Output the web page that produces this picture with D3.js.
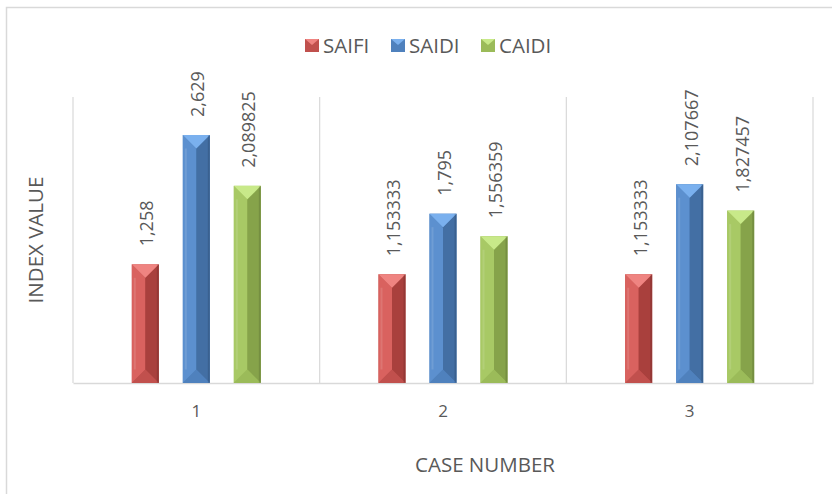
<!DOCTYPE html>
<html>
<head>
<meta charset="utf-8">
<script src="https://cdn.jsdelivr.net/npm/d3@7"></script>
<style>
  body { margin: 0; background: #fff; }
  text { font-family: "Open Sans", sans-serif; fill: #595959; }
</style>
</head>
<body>
<svg id="chart" width="832" height="494"></svg>
<script>
const categories = ["1", "2", "3"];
const seriesNames = ["SAIFI", "SAIDI", "CAIDI"];
const saifi = [1.258, 1.153333, 1.153333];
const saidi = [2.629, 1.795, 2.107667];
const caidi = [2.089825, 1.556359, 1.827457];
const yDomain = [0, 3];

const colors = {
    SAIFI: { base: "#c0504d", light: "#d9625f", dark: "#a9403d", cap: "#ef8481" },
    SAIDI: { base: "#4f81bd", light: "#5c90cf", dark: "#436fa4", cap: "#7ab0ee" },
    CAIDI: { base: "#9bbb59", light: "#a8c965", dark: "#86a34a", cap: "#c8e989" }
};

const plotLeft = 73;
const plotRight = 813;
const plotTop = 97;
const plotBottom = 383;
const barWidth = 27;
const seriesStep = 51;

const svg = d3.select("#chart");
const values = { SAIFI: saifi, SAIDI: saidi, CAIDI: caidi };

const x = d3.scaleBand()
    .domain(categories)
    .range([plotLeft, plotRight])
    .padding(0);

const y = d3.scaleLinear()
    .domain(yDomain)
    .range([plotBottom, plotTop + 3]);

const fmt = (v) => String(v).replace(".", ",");

// outer chart border
svg.append("path")
    .attr("d", "M6.5,494 L6.5,7.5 L832,7.5")
    .attr("fill", "none")
    .attr("stroke", "#d9d9d9")
    .attr("stroke-width", 1.5);

// vertical gridlines at category boundaries
const boundaries = categories.map(c => x(c)).concat([x.range()[1]]);
svg.append("g")
    .selectAll("line")
    .data(boundaries)
    .join("line")
    .attr("x1", d => d)
    .attr("x2", d => d)
    .attr("y1", plotTop)
    .attr("y2", plotBottom)
    .attr("stroke", "#d9d9d9")
    .attr("stroke-width", 1.2);

// x axis
const xAxis = svg.append("g")
    .attr("transform", `translate(0,${plotBottom})`)
    .call(d3.axisBottom(x).tickSize(0).tickPadding(22));
xAxis.select(".domain").attr("stroke", "#d9d9d9").attr("stroke-width", 1.5);
xAxis.selectAll("text")
    .attr("font-size", 17)
    .attr("font-family", "Open Sans, sans-serif")
    .attr("fill", "#595959");

// bevelled bars
const drawBar = (g, cx, v, c) =>
{
    const x0 = cx - barWidth / 2;
    const x1 = cx + barWidth / 2;
    const y0 = y(v);
    const y1 = y(0);
    const b = barWidth / 2;
    g.append("rect")
        .attr("x", x0).attr("y", y0)
        .attr("width", barWidth).attr("height", y1 - y0)
        .attr("fill", c.base);
    g.append("polygon")
        .attr("points", [[x0, y0], [cx, y0 + b], [cx, y1 - b], [x0, y1]].join(" "))
        .attr("fill", c.light);
    g.append("polygon")
        .attr("points", [[x1, y0], [cx, y0 + b], [cx, y1 - b], [x1, y1]].join(" "))
        .attr("fill", c.dark);
    g.append("polygon")
        .attr("points", [[x0, y0], [x1, y0], [cx, y0 + b]].join(" "))
        .attr("fill", c.cap);
    g.append("polygon")
        .attr("points", [[x0, y1], [x1, y1], [cx, y1 - b]].join(" "))
        .attr("fill", c.base)
        .attr("opacity", 0.8);
    g.append("rect")
        .attr("x", x0 + 2).attr("y", y0 + b)
        .attr("width", 2).attr("height", Math.max(0, y1 - y0 - 2 * b))
        .attr("fill", "#fff").attr("opacity", 0.12);
    g.append("rect")
        .attr("x", x1 - 2).attr("y", y0)
        .attr("width", 2).attr("height", y1 - y0)
        .attr("fill", "#000").attr("opacity", 0.12);
};

const bars = svg.append("g");
seriesNames.forEach((name, si) =>
{
    categories.forEach((cat, ci) =>
    {
        const cx = x(cat) + x.bandwidth() / 2 + (si - 1) * seriesStep;
        const v = values[name][ci];
        drawBar(bars, cx, v, colors[name]);
        bars.append("text")
            .attr("transform", `translate(${cx + 8},${y(v) - 18}) rotate(-90)`)
            .attr("font-size", 18)
            .attr("fill", "#737373")
            .attr("text-anchor", "start")
            .text(fmt(v));
    });
});

// axis titles
svg.append("text")
    .attr("transform", `translate(43,240) rotate(-90)`)
    .attr("text-anchor", "middle")
    .attr("font-size", 20.5)
    .text("INDEX VALUE");

svg.append("text")
    .attr("x", 485)
    .attr("y", 472)
    .attr("text-anchor", "middle")
    .attr("font-size", 20.5)
    .text("CASE NUMBER");

// legend
const legendX = [305, 391, 481];
const legend = svg.append("g");
seriesNames.forEach((name, i) =>
{
    const c = colors[name];
    const lx = legendX[i];
    legend.append("rect")
        .attr("x", lx).attr("y", 39)
        .attr("width", 14).attr("height", 13)
        .attr("fill", c.base);
    legend.append("polygon")
        .attr("points", [[lx, 39], [lx + 14, 39], [lx + 7, 45]].join(" "))
        .attr("fill", c.cap);
    legend.append("text")
        .attr("x", lx + 18)
        .attr("y", 53)
        .attr("font-size", 20.5)
        .text(name);
});
</script>
</body>
</html>
